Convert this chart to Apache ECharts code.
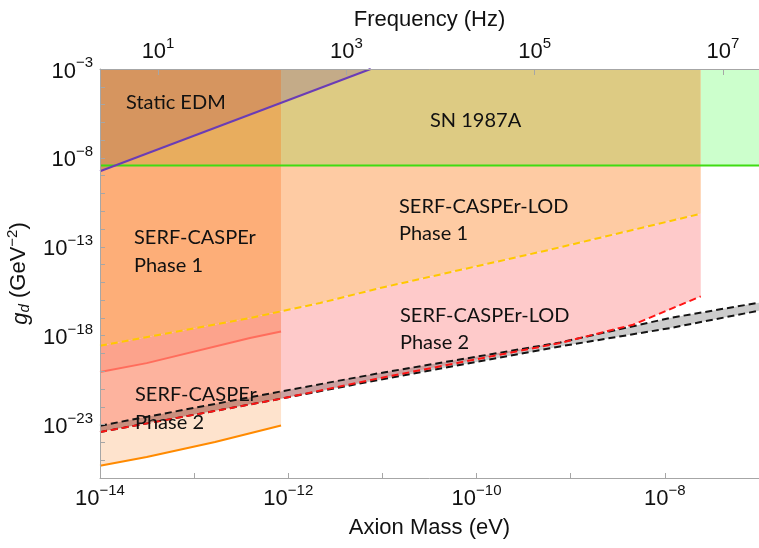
<!DOCTYPE html>
<html>
<head>
<meta charset="utf-8">
<title>Axion EDM coupling reach</title>
<script src="https://cdn.jsdelivr.net/npm/echarts@6.0.0/dist/echarts.min.js"></script>
<style>
  html, body { margin: 0; padding: 0; background: #fff; }
  #chart { width: 759px; height: 548px; }
</style>
</head>
<body>
<div id="chart"></div>
<script>
// every value is a log10: x = log10(m / eV), y = log10(g_d / GeV^-2)
const massRange = [-14, -7];
const gdRange = [-26, -3];
const hzPerEv = Math.log10(2.417989e14); // f = m c^2 / h

const massTicks = [-14, -13, -12, -11, -10, -9, -8, -7];
const massLabels = [-14, -12, -10, -8];
const gdTicks = [-26, -25, -24, -23, -22, -21, -20, -19, -18, -17, -16, -15, -14,
  -13, -12, -11, -10, -9, -8, -7, -6, -5, -4, -3];
const gdLabels = [-23, -18, -13, -8, -3];
const freqLabels = [1, 3, 5, 7];

const serfEdge = -12.077; // SERF-CASPEr upper mass (200 Hz)
const lodEdge = -7.619;   // SERF-CASPEr-LOD upper mass
const sn1987a = -8.42;    // SN 1987A bound

const edmMass = [-14, -11.125];
const edmGd = [-8.75, -3];

const lod1Mass = [-14, -12.407, -12.077, -11.663, -11.026, -9.22, -7.619];
const lod1Gd = [-18.56, -17.0, -16.63, -16.16, -15.32, -13.16, -11.14];

const lod2Mass = [-14, -12.077, -11.026, -9.114, -8.338, -7.619];
const lod2Gd = [-23.42, -21.54, -20.38, -18.41, -17.38, -15.79];

const serf1Mass = [-14, -13.504, -12.407, -12.077];
const serf1Gd = [-20.04, -19.54, -18.13, -17.76];

const serf2Mass = [-14, -13.504, -12.778, -12.077];
const serf2Gd = [-25.31, -24.82, -23.98, -23.05];

const limitMass = [-14, -12.077, -11.026, -9.114, -7.945, -7];
const limitUpperGd = [-23.06, -21.13, -20.10, -18.38, -17.0, -16.14];
const limitLowerGd = [-23.42, -21.54, -20.47, -18.60, -17.57, -16.59];

const flatMass = [-14, -7];

function interp (xs, ys, x) {
  if (x <= xs[0]) return ys[0];
  for (let i = 1; i < xs.length; i++) {
    if (x <= xs[i]) {
      const t = (x - xs[i - 1]) / (xs[i] - xs[i - 1]);
      return ys[i - 1] + t * (ys[i] - ys[i - 1]);
    }
  }
  return ys[ys.length - 1];
}

// points of a curve between a and b
function piece (xs, ys, a, b) {
  const pts = [[a, interp(xs, ys, a)]];
  xs.forEach((x, i) => { if (x > a && x < b) pts.push([x, ys[i]]); });
  pts.push([b, interp(xs, ys, b)]);
  return pts;
}

// region between a lower and an upper curve
function band (lo, hi, a, b) {
  return piece(hi[0], hi[1], a, b).concat(piece(lo[0], lo[1], a, b).reverse());
}

const snLine = [flatMass, [sn1987a, sn1987a]];
const topLine = [flatMass, [gdRange[1], gdRange[1]]];
const lod1 = [lod1Mass, lod1Gd];
const lod2 = [lod2Mass, lod2Gd];
const serf1 = [serf1Mass, serf1Gd];
const serf2 = [serf2Mass, serf2Gd];
const edm = [edmMass, edmGd];

const patches = [
  { color: '#ccffcc', pts: band(snLine, topLine, lodEdge, massRange[1]) },
  { color: '#ddcb83', pts: band(snLine, topLine, serfEdge, lodEdge) },
  { color: '#e8ad5e', pts: band(snLine, topLine, massRange[0], serfEdge) },
  { color: '#fecba3', pts: band(lod1, snLine, serfEdge, lodEdge) },
  { color: '#fdae78', pts: band(lod1, snLine, massRange[0], serfEdge) },
  { color: '#fecaca', pts: band(lod2, lod1, serfEdge, lodEdge) },
  { color: '#fca38c', pts: band(serf1, lod1, massRange[0], serfEdge) },
  { color: '#fdb39e', pts: band(lod2, serf1, massRange[0], serfEdge) },
  { color: '#fee3cd', pts: band(serf2, lod2, massRange[0], serfEdge) },
  { color: 'rgba(0,0,0,0.2)', pts: band([limitMass, limitLowerGd], [limitMass, limitUpperGd], massRange[0], massRange[1]) },
  { color: '#d6955f', pts: band(edm, topLine, massRange[0], serfEdge) },
  { color: '#c4ab88', pts: band(edm, topLine, serfEdge, edmMass[1]) }
];

const zip = (xs, ys) => xs.map((x, i) => [x, ys[i]]);

const tickFont = 'Liberation Sans, Arial, sans-serif';
const powRich = {
  b: { fontSize: 22, fontFamily: tickFont, color: '#111', padding: [5, 0, 0, 0] },
  s: { fontSize: 15, fontFamily: tickFont, color: '#111', verticalAlign: 'top' }
};
const pow = v => '{b|10}{s|' + String(Math.round(v)).replace('-', '\u2212') + '}';

function lineSeries (xs, ys, color, width, dashed) {
  return {
    type: 'line',
    data: zip(xs, ys),
    showSymbol: false,
    symbol: 'none',
    silent: true,
    lineStyle: { color: color, width: width, type: dashed ? [7, 4] : 'solid' },
    z: 3
  };
}

const axisGray = '#a6a6a6';
const nameStyle = { fontSize: 22, fontFamily: tickFont, color: '#111' };
const labelFont = '20px Lato, sans-serif';

function note (text, left, top, lineHeight) {
  return {
    type: 'text', left: left, top: top, z: 100, silent: true,
    style: { text: text, font: labelFont, fill: '#111', lineHeight: lineHeight }
  };
}

const chart = echarts.init(document.getElementById('chart'));
chart.setOption({
  animation: false,
  grid: { left: 100, right: 0, top: 69, bottom: 70, outerBoundsMode: 'none', containLabel: false },
  xAxis: [
    {
      type: 'value',
      min: massRange[0],
      max: massRange[1],
      position: 'bottom',
      z: 5,
      name: 'Axion Mass (eV)',
      nameLocation: 'middle',
      nameGap: 39,
      nameTextStyle: nameStyle,
      axisLine: { lineStyle: { color: axisGray } },
      splitLine: { show: false },
      axisTick: { inside: true, length: 5, customValues: massTicks, lineStyle: { color: axisGray } },
      axisLabel: { customValues: massLabels, formatter: pow, rich: powRich, margin: 5 }
    },
    {
      type: 'value',
      min: massRange[0] + hzPerEv,
      max: massRange[1] + hzPerEv,
      position: 'top',
      z: 5,
      name: 'Frequency (Hz)',
      nameLocation: 'middle',
      nameGap: 38,
      nameTextStyle: nameStyle,
      axisLine: { lineStyle: { color: axisGray } },
      splitLine: { show: false },
      axisTick: { inside: true, length: 6, customValues: freqLabels, lineStyle: { color: axisGray } },
      axisLabel: { customValues: freqLabels, formatter: pow, rich: powRich, margin: 6 }
    }
  ],
  yAxis: {
    type: 'value',
    min: gdRange[0],
    max: gdRange[1],
    z: 5,
    name: '{g|g}{d|d} (GeV{s|\u22122})',
    nameLocation: 'middle',
    nameGap: 50,
    nameTextStyle: {
      fontSize: 22,
      fontFamily: tickFont,
      color: '#111',
      rich: {
        g: { fontSize: 22, fontFamily: tickFont, fontStyle: 'italic', color: '#111', padding: [4, 0, 0, 0] },
        d: { fontSize: 15, fontFamily: tickFont, fontStyle: 'italic', color: '#111', padding: [12, 0, 0, 0] },
        s: { fontSize: 15, fontFamily: tickFont, color: '#111', verticalAlign: 'top' }
      }
    },
    axisLine: { lineStyle: { color: axisGray } },
    splitLine: { show: false },
    axisTick: { inside: true, length: 5, customValues: gdTicks, lineStyle: { color: axisGray } },
    axisLabel: { customValues: gdLabels, formatter: pow, rich: powRich, margin: 7 }
  },
  series: [
    {
      type: 'custom',
      silent: true,
      clip: true,
      data: [[-10, -10]],
      z: 1,
      renderItem: function (params, api) {
        return {
          type: 'group',
          children: patches.map(p => ({
            type: 'polygon',
            shape: { points: p.pts.map(q => api.coord(q)) },
            style: { fill: p.color }
          }))
        };
      }
    },
    lineSeries(flatMass, [sn1987a, sn1987a], '#3fdc12', 2, false),
    lineSeries(edmMass, edmGd, '#6a3cb6', 2, false),
    lineSeries(serf1Mass, serf1Gd, '#ff6d5c', 2, false),
    lineSeries(serf2Mass, serf2Gd, '#ff8a00', 2, false),
    lineSeries(limitMass, limitUpperGd, '#141414', 2, true),
    lineSeries(limitMass, limitLowerGd, '#141414', 2, true),
    lineSeries(lod1Mass, lod1Gd, '#ffc800', 2, true),
    lineSeries(lod2Mass, lod2Gd, '#ff1414', 2, true)
  ],
  graphic: [
    note('Static EDM', 126, 89, 27),
    note('SN 1987A', 430, 107, 27),
    note('SERF-CASPEr\nPhase 1', 134, 224, 27.5),
    note('SERF-CASPEr-LOD\nPhase 1', 399, 193, 27),
    note('SERF-CASPEr-LOD\nPhase 2', 400, 302, 27),
    note('SERF-CASPEr\nPhase 2', 135, 381, 28)
  ]
});
</script>
</body>
</html>
